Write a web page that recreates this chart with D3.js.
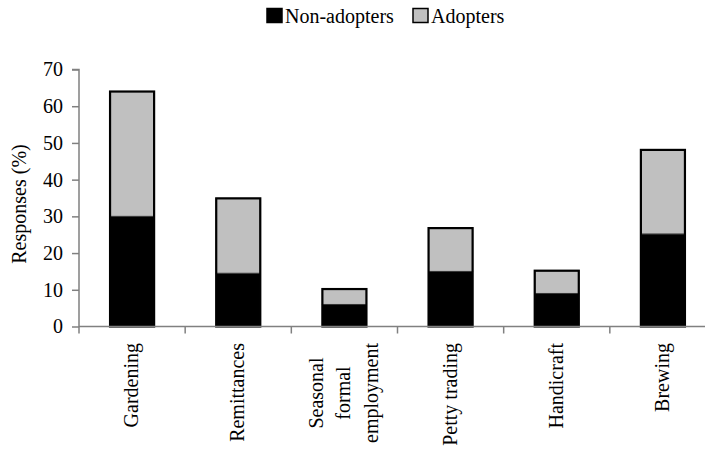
<!DOCTYPE html>
<html><head><meta charset="utf-8">
<script src="https://cdn.jsdelivr.net/npm/d3@7"></script>
<style>body{margin:0;background:#fff}svg{display:block}</style>
</head><body><svg id="c" width="705" height="453"></svg>
<script>
const categories = ["Gardening", "Remittances", "Seasonal\nformal\nemployment", "Petty trading", "Handicraft", "Brewing"];
const nonAdopters = [30, 14.5, 6, 15, 9, 25.2];
const adopters = [34, 20.4, 4.2, 11.8, 6.2, 22.9];
const yTicks = [0, 10, 20, 30, 40, 50, 60, 70];
const seriesNames = ["Non-adopters", "Adopters"];
const colors = ["#000000", "#c0c0c0"];

(function () {
const FONT = "'Liberation Serif', serif";
const svg = d3.select("#c").attr("font-family", FONT);
const mLeft = 79, mRight = 716, mTop = 69.5, mBottom = 326.5;
const x = d3.scaleBand().domain(categories).range([mLeft, mRight]).padding(0);
const y = d3.scaleLinear().domain([0, 70]).range([mBottom, mTop]);
const axisColor = "#808080";
const fs = 20;
const T = sel => sel.attr("font-family", FONT).attr("font-size", fs).attr("fill", "#000");

// Y axis
const gy = svg.append("g").attr("transform", `translate(${mLeft},0)`)
  .call(d3.axisLeft(y).tickValues(yTicks).tickSize(7).tickPadding(9).tickFormat(d3.format("d")));
gy.attr("font-family", FONT).attr("font-size", fs);
gy.select(".domain").attr("stroke", axisColor).attr("stroke-width", 1.5).attr("d", `M-7,${mTop}H0V${mBottom + 7}`);
gy.selectAll(".tick line").attr("stroke", axisColor).attr("stroke-width", 1.5);
gy.selectAll(".tick text").call(T);

// Bars
const bw = x.bandwidth() * 0.415;
const stackData = categories.map((c, i) => ({c, v: [nonAdopters[i], adopters[i]]}));
const barG = svg.append("g");
stackData.forEach(d => {
  const cx = x(d.c) + x.bandwidth() / 2;
  let base = 0;
  d.v.forEach((v, k) => {
    barG.append("rect")
      .attr("x", cx - bw / 2).attr("width", bw)
      .attr("y", y(base + v)).attr("height", y(base) - y(base + v))
      .attr("fill", colors[k]).attr("stroke", "#333").attr("stroke-width", 1);
    base += v;
  });
  barG.append("rect")
    .attr("x", cx - bw / 2).attr("width", bw)
    .attr("y", y(base)).attr("height", y(0) - y(base))
    .attr("fill", "none").attr("stroke", "#000").attr("stroke-width", 2.2);
});

// X axis
const gx = svg.append("g");
gx.append("line").attr("x1", mLeft).attr("x2", mRight).attr("y1", mBottom).attr("y2", mBottom)
  .attr("stroke", axisColor).attr("stroke-width", 1.5);
categories.slice(1).forEach(c => {
  gx.append("line").attr("x1", x(c)).attr("x2", x(c)).attr("y1", mBottom).attr("y2", mBottom + 7)
    .attr("stroke", axisColor).attr("stroke-width", 1.5);
});

// Category labels (rotated)
const labelTop = 343;
categories.forEach(c => {
  const cx = x(c) + x.bandwidth() / 2;
  const lines = c.split("\n");
  if (lines.length === 1) {
    svg.append("text").call(T).attr("transform", `translate(${cx + 6},${labelTop}) rotate(-90)`)
      .attr("text-anchor", "end").text(c);
  } else {
    const tmp = svg.append("text").call(T);
    let maxLen = 0;
    lines.forEach(l => { tmp.text(l); maxLen = Math.max(maxLen, tmp.node().getComputedTextLength()); });
    tmp.remove();
    const spacing = 27.5;
    lines.forEach((l, k) => {
      const lx = cx + (k - (lines.length - 1) / 2) * spacing;
      svg.append("text").call(T).attr("transform", `translate(${lx + 6},${labelTop + maxLen / 2}) rotate(-90)`)
        .attr("text-anchor", "middle").text(l);
    });
  }
});

// Y title
svg.append("text").call(T).attr("transform", `translate(26,204) rotate(-90)`)
  .attr("text-anchor", "middle").text("Responses (%)");

// Legend
const leg = svg.append("g");
const legX = [267, 413];
seriesNames.forEach((n, k) => {
  leg.append("rect").attr("x", legX[k]).attr("y", 8.5).attr("width", 15).attr("height", 14)
    .attr("fill", colors[k]).attr("stroke", "#000").attr("stroke-width", 1.5);
  leg.append("text").call(T).attr("x", legX[k] + 18).attr("y", 23).text(n);
});
})();
</script></body></html>
